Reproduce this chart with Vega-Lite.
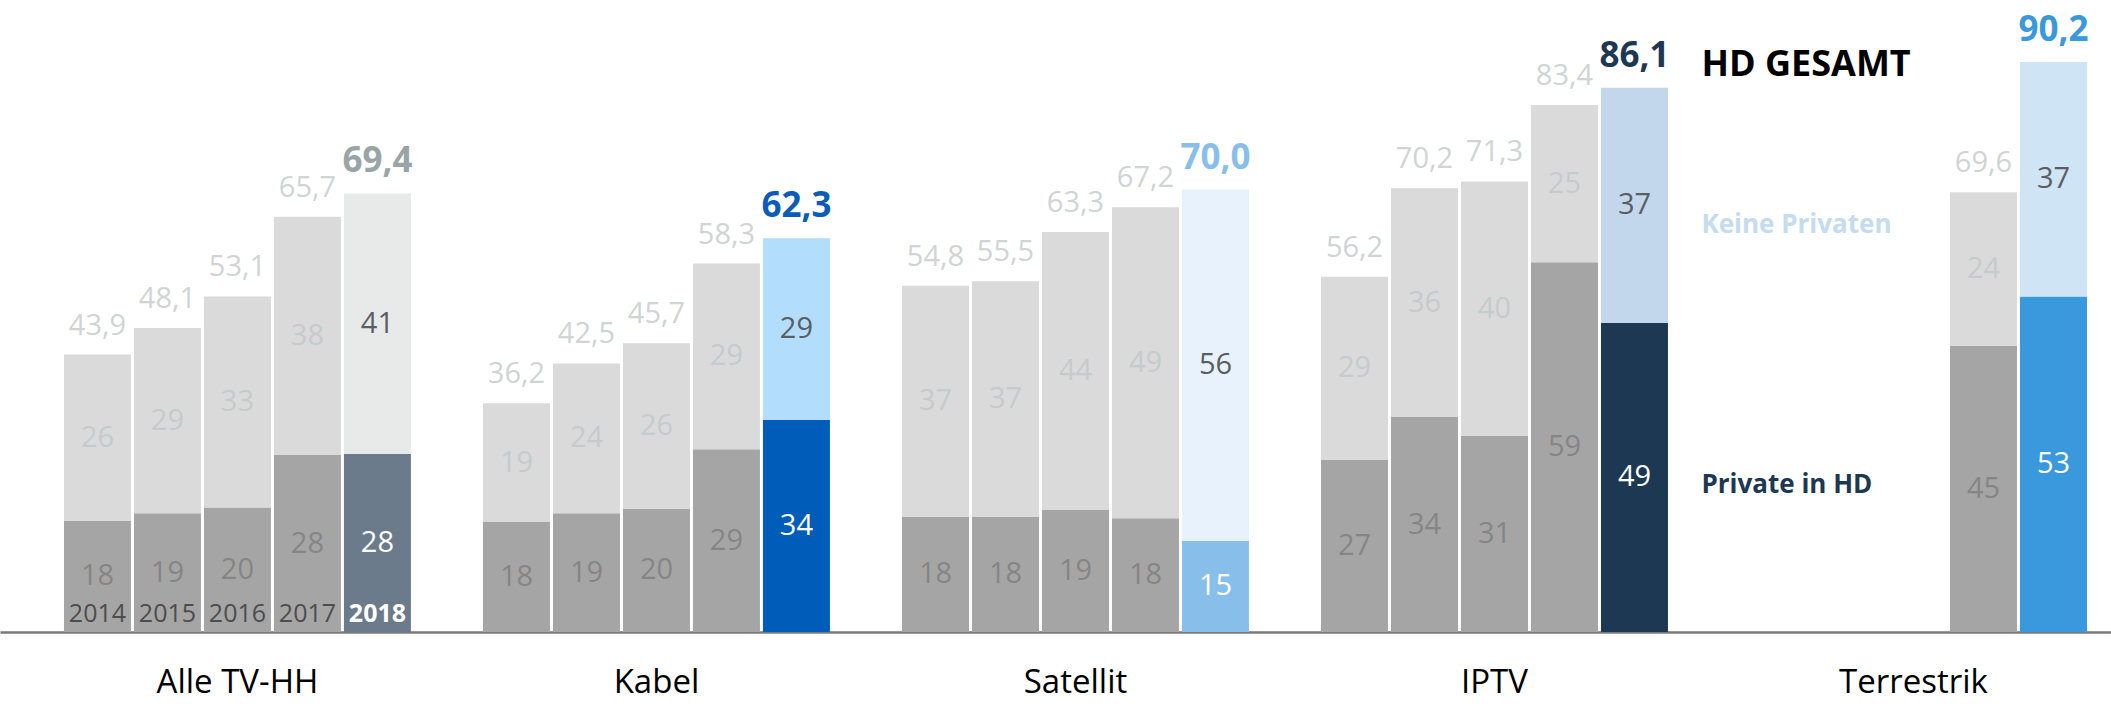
{
  "$schema": "https://vega.github.io/schema/vega-lite/v6.json",
  "width": 2111,
  "height": 632,
  "autosize": {"type": "none"},
  "padding": {"left": 0, "top": 0, "right": 0, "bottom": 72},
  "config": {"view": {"stroke": null}, "font": "Open Sans", "text": {"font": "Open Sans"}},
  "datasets": {
    "bars": [
      {"g": "Alle TV-HH", "year": "2014", "part": "Private in HD", "v": 17.6, "lab": "18"},
      {"g": "Alle TV-HH", "year": "2014", "part": "Keine Privaten", "v": 26.3, "lab": "26"},
      {"g": "Alle TV-HH", "year": "2015", "part": "Private in HD", "v": 18.8, "lab": "19"},
      {"g": "Alle TV-HH", "year": "2015", "part": "Keine Privaten", "v": 29.3, "lab": "29"},
      {"g": "Alle TV-HH", "year": "2016", "part": "Private in HD", "v": 19.7, "lab": "20"},
      {"g": "Alle TV-HH", "year": "2016", "part": "Keine Privaten", "v": 33.4, "lab": "33"},
      {"g": "Alle TV-HH", "year": "2017", "part": "Private in HD", "v": 28.0, "lab": "28"},
      {"g": "Alle TV-HH", "year": "2017", "part": "Keine Privaten", "v": 37.7, "lab": "38"},
      {"g": "Alle TV-HH", "year": "2018", "part": "Private in HD", "v": 28.2, "lab": "28"},
      {"g": "Alle TV-HH", "year": "2018", "part": "Keine Privaten", "v": 41.2, "lab": "41"},
      {"g": "Kabel", "year": "2014", "part": "Private in HD", "v": 17.4, "lab": "18"},
      {"g": "Kabel", "year": "2014", "part": "Keine Privaten", "v": 18.8, "lab": "19"},
      {"g": "Kabel", "year": "2015", "part": "Private in HD", "v": 18.8, "lab": "19"},
      {"g": "Kabel", "year": "2015", "part": "Keine Privaten", "v": 23.7, "lab": "24"},
      {"g": "Kabel", "year": "2016", "part": "Private in HD", "v": 19.5, "lab": "20"},
      {"g": "Kabel", "year": "2016", "part": "Keine Privaten", "v": 26.2, "lab": "26"},
      {"g": "Kabel", "year": "2017", "part": "Private in HD", "v": 28.9, "lab": "29"},
      {"g": "Kabel", "year": "2017", "part": "Keine Privaten", "v": 29.4, "lab": "29"},
      {"g": "Kabel", "year": "2018", "part": "Private in HD", "v": 33.6, "lab": "34"},
      {"g": "Kabel", "year": "2018", "part": "Keine Privaten", "v": 28.7, "lab": "29"},
      {"g": "Satellit", "year": "2014", "part": "Private in HD", "v": 18.2, "lab": "18"},
      {"g": "Satellit", "year": "2014", "part": "Keine Privaten", "v": 36.6, "lab": "37"},
      {"g": "Satellit", "year": "2015", "part": "Private in HD", "v": 18.2, "lab": "18"},
      {"g": "Satellit", "year": "2015", "part": "Keine Privaten", "v": 37.3, "lab": "37"},
      {"g": "Satellit", "year": "2016", "part": "Private in HD", "v": 19.3, "lab": "19"},
      {"g": "Satellit", "year": "2016", "part": "Keine Privaten", "v": 44.0, "lab": "44"},
      {"g": "Satellit", "year": "2017", "part": "Private in HD", "v": 18.0, "lab": "18"},
      {"g": "Satellit", "year": "2017", "part": "Keine Privaten", "v": 49.2, "lab": "49"},
      {"g": "Satellit", "year": "2018", "part": "Private in HD", "v": 14.4, "lab": "15"},
      {"g": "Satellit", "year": "2018", "part": "Keine Privaten", "v": 55.6, "lab": "56"},
      {"g": "IPTV", "year": "2014", "part": "Private in HD", "v": 27.2, "lab": "27"},
      {"g": "IPTV", "year": "2014", "part": "Keine Privaten", "v": 29.0, "lab": "29"},
      {"g": "IPTV", "year": "2015", "part": "Private in HD", "v": 34.0, "lab": "34"},
      {"g": "IPTV", "year": "2015", "part": "Keine Privaten", "v": 36.2, "lab": "36"},
      {"g": "IPTV", "year": "2016", "part": "Private in HD", "v": 31.0, "lab": "31"},
      {"g": "IPTV", "year": "2016", "part": "Keine Privaten", "v": 40.3, "lab": "40"},
      {"g": "IPTV", "year": "2017", "part": "Private in HD", "v": 58.5, "lab": "59"},
      {"g": "IPTV", "year": "2017", "part": "Keine Privaten", "v": 24.9, "lab": "25"},
      {"g": "IPTV", "year": "2018", "part": "Private in HD", "v": 48.9, "lab": "49"},
      {"g": "IPTV", "year": "2018", "part": "Keine Privaten", "v": 37.2, "lab": "37"},
      {"g": "Terrestrik", "year": "2017", "part": "Private in HD", "v": 45.3, "lab": "45"},
      {"g": "Terrestrik", "year": "2017", "part": "Keine Privaten", "v": 24.3, "lab": "24"},
      {"g": "Terrestrik", "year": "2018", "part": "Private in HD", "v": 53.1, "lab": "53"},
      {"g": "Terrestrik", "year": "2018", "part": "Keine Privaten", "v": 37.1, "lab": "37"}
    ],
    "totals": [
      {"g": "Alle TV-HH", "year": "2014", "t": 43.9, "lab": "43,9"},
      {"g": "Alle TV-HH", "year": "2015", "t": 48.1, "lab": "48,1"},
      {"g": "Alle TV-HH", "year": "2016", "t": 53.1, "lab": "53,1"},
      {"g": "Alle TV-HH", "year": "2017", "t": 65.7, "lab": "65,7"},
      {"g": "Alle TV-HH", "year": "2018", "t": 69.4, "lab": "69,4"},
      {"g": "Kabel", "year": "2014", "t": 36.2, "lab": "36,2"},
      {"g": "Kabel", "year": "2015", "t": 42.5, "lab": "42,5"},
      {"g": "Kabel", "year": "2016", "t": 45.7, "lab": "45,7"},
      {"g": "Kabel", "year": "2017", "t": 58.3, "lab": "58,3"},
      {"g": "Kabel", "year": "2018", "t": 62.3, "lab": "62,3"},
      {"g": "Satellit", "year": "2014", "t": 54.8, "lab": "54,8"},
      {"g": "Satellit", "year": "2015", "t": 55.5, "lab": "55,5"},
      {"g": "Satellit", "year": "2016", "t": 63.3, "lab": "63,3"},
      {"g": "Satellit", "year": "2017", "t": 67.2, "lab": "67,2"},
      {"g": "Satellit", "year": "2018", "t": 70.0, "lab": "70,0"},
      {"g": "IPTV", "year": "2014", "t": 56.2, "lab": "56,2"},
      {"g": "IPTV", "year": "2015", "t": 70.2, "lab": "70,2"},
      {"g": "IPTV", "year": "2016", "t": 71.3, "lab": "71,3"},
      {"g": "IPTV", "year": "2017", "t": 83.4, "lab": "83,4"},
      {"g": "IPTV", "year": "2018", "t": 86.1, "lab": "86,1"},
      {"g": "Terrestrik", "year": "2017", "t": 69.6, "lab": "69,6"},
      {"g": "Terrestrik", "year": "2018", "t": 90.2, "lab": "90,2"}
    ],
    "notes": [
      {"g": "IPTV", "year": "2018", "t": 88.0, "txt": "HD GESAMT"},
      {"g": "IPTV", "year": "2018", "t": 63.1, "txt": "Keine Privaten"},
      {"g": "IPTV", "year": "2018", "t": 22.0, "txt": "Private in HD"}
    ]
  },
  "encoding": {
    "x": {
      "field": "g",
      "type": "nominal",
      "scale": {"domain": ["Alle TV-HH", "Kabel", "Satellit", "IPTV", "Terrestrik"], "paddingInner": 0.172, "paddingOuter": 0.105, "align": 0.727},
      "axis": {"title": null, "ticks": false, "tickSize": 0, "labelAngle": 0, "labelFontSize": 33, "labelColor": "#000000", "labelFont": "Open Sans", "labelBaseline": "alphabetic", "labelPadding": 60, "domainColor": "#7a7a7a", "domainWidth": 2.5}
    },
    "xOffset": {"field": "year", "type": "nominal", "scale": {"paddingInner": 0.043, "paddingOuter": 0}}
  },
  "layer": [
    {
      "data": {"name": "bars"},
      "mark": {"type": "bar"},
      "encoding": {
        "y": {"field": "v", "type": "quantitative", "stack": "zero", "scale": {"domain": [0, 100], "nice": false}, "axis": null},
        "order": {"field": "part", "sort": "descending"},
        "detail": {"field": "part"},
        "color": {
          "condition": [
            {"test": "datum.year == '2018' && datum.g == 'Alle TV-HH' && datum.part == 'Private in HD'", "value": "#6c7b8c"},
            {"test": "datum.year == '2018' && datum.g == 'Alle TV-HH'", "value": "#e8eaea"},
            {"test": "datum.year == '2018' && datum.g == 'Kabel' && datum.part == 'Private in HD'", "value": "#005cb9"},
            {"test": "datum.year == '2018' && datum.g == 'Kabel'", "value": "#b3ddfc"},
            {"test": "datum.year == '2018' && datum.g == 'Satellit' && datum.part == 'Private in HD'", "value": "#88bfea"},
            {"test": "datum.year == '2018' && datum.g == 'Satellit'", "value": "#e8f2fc"},
            {"test": "datum.year == '2018' && datum.g == 'IPTV' && datum.part == 'Private in HD'", "value": "#1c3853"},
            {"test": "datum.year == '2018' && datum.g == 'IPTV'", "value": "#c2d7ec"},
            {"test": "datum.year == '2018' && datum.g == 'Terrestrik' && datum.part == 'Private in HD'", "value": "#3a98dd"},
            {"test": "datum.year == '2018' && datum.g == 'Terrestrik'", "value": "#cfe4f5"},
            {"test": "datum.part == 'Private in HD'", "value": "#a5a5a5"}
          ],
          "value": "#dadada"
        }
      }
    },
    {
      "data": {"name": "bars"},
      "mark": {"type": "text", "baseline": "middle", "fontSize": 29},
      "encoding": {
        "y": {"field": "v", "type": "quantitative", "stack": "zero", "bandPosition": 0.5},
        "order": {"field": "part", "sort": "descending"},
        "detail": {"field": "part"},
        "text": {"field": "lab"},
        "color": {
          "condition": [
            {"test": "datum.year == '2018' && datum.part == 'Private in HD'", "value": "#ffffff"},
            {"test": "datum.year == '2018'", "value": "#5a5e62"},
            {"test": "datum.part == 'Private in HD'", "value": "#858585"}
          ],
          "value": "#c5cbcb"
        }
      }
    },
    {
      "data": {"name": "totals"},
      "transform": [{"filter": "datum.year != '2018'"}],
      "mark": {"type": "text", "baseline": "alphabetic", "fontSize": 29, "dy": -20, "color": "#d0d4d4"},
      "encoding": {
        "y": {"field": "t", "type": "quantitative"},
        "text": {"field": "lab"}
      }
    },
    {
      "data": {"name": "totals"},
      "transform": [{"filter": "datum.year == '2018'"}],
      "mark": {"type": "text", "baseline": "alphabetic", "fontSize": 35, "fontWeight": "bold", "dy": -21},
      "encoding": {
        "y": {"field": "t", "type": "quantitative"},
        "text": {"field": "lab"},
        "color": {
          "condition": [
            {"test": "datum.g == 'Alle TV-HH'", "value": "#98a4a6"},
            {"test": "datum.g == 'Kabel'", "value": "#0a5cb8"},
            {"test": "datum.g == 'Satellit'", "value": "#88bfea"},
            {"test": "datum.g == 'IPTV'", "value": "#1c3853"}
          ],
          "value": "#3a98dd"
        }
      }
    },
    {
      "data": {"name": "bars"},
      "transform": [{"filter": "datum.g == 'Alle TV-HH' && datum.part == 'Private in HD' && datum.year != '2018'"}],
      "mark": {"type": "text", "baseline": "alphabetic", "fontSize": 25, "dy": -10, "color": "#4d4d4d"},
      "encoding": {
        "y": {"datum": 0, "type": "quantitative"},
        "text": {"field": "year"}
      }
    },
    {
      "data": {"name": "bars"},
      "transform": [{"filter": "datum.g == 'Alle TV-HH' && datum.part == 'Private in HD' && datum.year == '2018'"}],
      "mark": {"type": "text", "baseline": "alphabetic", "fontSize": 25, "fontWeight": "bold", "dy": -10, "color": "#ffffff"},
      "encoding": {
        "y": {"datum": 0, "type": "quantitative"},
        "text": {"field": "year"}
      }
    },
    {
      "data": {"name": "notes"},
      "mark": {"type": "text", "baseline": "alphabetic", "align": "left", "fontWeight": "bold", "dx": 67},
      "encoding": {
        "y": {"field": "t", "type": "quantitative"},
        "text": {"field": "txt"},
        "size": {"condition": {"test": "datum.txt == 'HD GESAMT'", "value": 36}, "value": 26},
        "color": {
          "condition": [
            {"test": "datum.txt == 'HD GESAMT'", "value": "#000000"},
            {"test": "datum.txt == 'Keine Privaten'", "value": "#c4dbf0"}
          ],
          "value": "#1c3853"
        }
      }
    }
  ]
}
